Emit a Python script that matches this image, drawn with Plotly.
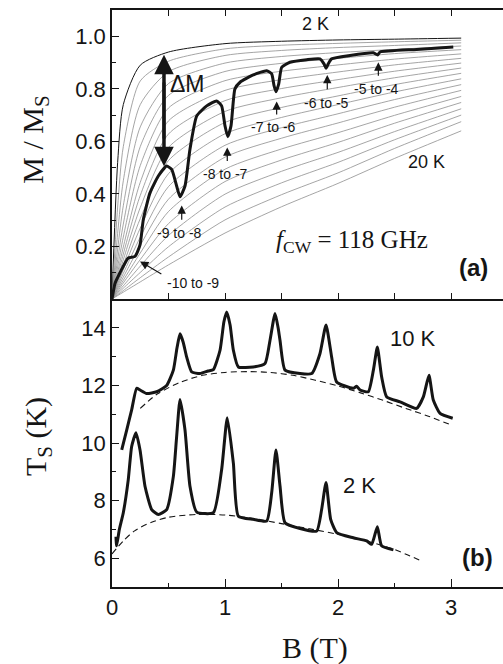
import plotly.graph_objects as go

# ---------------- data ----------------
# Grey model curves M/Ms(B) for T = 2 ... 20 K, read at these fields
B_grid = [0, 0.05, 0.1, 0.25, 0.5, 1.0, 1.5, 2.0, 2.5, 3.09]
temps = list(range(2, 21))
M_T2 = [0, 0.52, 0.74, 0.89, 0.94, 0.972, 0.981, 0.986, 0.989, 0.993]
M_T3 = [0, 0.35, 0.58, 0.83, 0.905, 0.952, 0.966, 0.973, 0.979, 0.985]
M_T4 = [0, 0.25, 0.45, 0.74, 0.865, 0.927, 0.946, 0.957, 0.965, 0.975]
M_T5 = [0, 0.19, 0.355, 0.655, 0.82, 0.898, 0.923, 0.938, 0.950, 0.963]
M_T6 = [0, 0.15, 0.285, 0.58, 0.775, 0.866, 0.897, 0.916, 0.934, 0.949]
M_T7 = [0, 0.122, 0.236, 0.508, 0.727, 0.831, 0.867, 0.891, 0.913, 0.933]
M_T8 = [0, 0.101, 0.198, 0.444, 0.678, 0.794, 0.835, 0.864, 0.891, 0.916]
M_T9 = [0, 0.087, 0.171, 0.394, 0.628, 0.755, 0.801, 0.835, 0.867, 0.898]
M_T10 = [0, 0.075, 0.149, 0.348, 0.577, 0.714, 0.766, 0.805, 0.842, 0.879]
M_T11 = [0, 0.065, 0.129, 0.306, 0.527, 0.672, 0.729, 0.773, 0.816, 0.859]
M_T12 = [0, 0.057, 0.112, 0.27, 0.477, 0.629, 0.691, 0.740, 0.788, 0.838]
M_T13 = [0, 0.049, 0.097, 0.235, 0.428, 0.585, 0.652, 0.705, 0.759, 0.816]
M_T14 = [0, 0.042, 0.083, 0.204, 0.38, 0.540, 0.612, 0.670, 0.730, 0.794]
M_T15 = [0, 0.036, 0.071, 0.175, 0.333, 0.494, 0.571, 0.633, 0.699, 0.771]
M_T16 = [0, 0.030, 0.061, 0.15, 0.287, 0.447, 0.529, 0.596, 0.669, 0.748]
M_T17 = [0, 0.025, 0.050, 0.125, 0.242, 0.399, 0.486, 0.558, 0.637, 0.724]
M_T18 = [0, 0.020, 0.041, 0.101, 0.199, 0.350, 0.442, 0.520, 0.606, 0.700]
M_T19 = [0, 0.016, 0.032, 0.081, 0.16, 0.301, 0.397, 0.480, 0.573, 0.675]
M_T20 = [0, 0.013, 0.026, 0.065, 0.13, 0.251, 0.351, 0.44, 0.535, 0.64]
model_curves = [M_T2, M_T3, M_T4, M_T5, M_T6, M_T7, M_T8, M_T9, M_T10, M_T11,
                M_T12, M_T13, M_T14, M_T15, M_T16, M_T17, M_T18, M_T19, M_T20]

# Measured M/Ms at 2 K under 118 GHz irradiation
M_meas_B = [0, 0.027, 0.071, 0.144, 0.204, 0.248, 0.277, 0.336, 0.41, 0.484, 0.528,
            0.572, 0.602, 0.646, 0.69, 0.75, 0.838, 0.926, 0.97, 1.0, 1.024, 1.053,
            1.088, 1.133, 1.25, 1.369, 1.413, 1.434, 1.451, 1.475, 1.502, 1.575,
            1.723, 1.84, 1.876, 1.894, 1.914, 1.944, 2.106, 2.313, 2.351, 2.372,
            2.696, 3.02]
M_meas = [0, 0.06, 0.10, 0.156, 0.162, 0.206, 0.302, 0.404, 0.468, 0.506, 0.493,
          0.43, 0.389, 0.43, 0.57, 0.697, 0.735, 0.754, 0.735, 0.659, 0.618, 0.659,
          0.80, 0.825, 0.853, 0.869, 0.857, 0.812, 0.789, 0.818, 0.882, 0.901,
          0.911, 0.914, 0.895, 0.878, 0.895, 0.914, 0.927, 0.937, 0.929, 0.94,
          0.95, 0.959]

# Delta M arrow (B position, lower and upper M)
dM_B = 0.46
dM_low = 0.505
dM_high = 0.93

# Transition labels: (label, arrow tip B, tip M, tail B, tail M, text B, text M)
trans_labels = ["-10 to -9", "-9 to -8", "-8 to -7", "-7 to -6", "-6 to -5", "-5 to -4"]
trans_tip_B = [0.248, 0.617, 1.02, 1.457, 1.905, 2.357]
trans_tip_M = [0.143, 0.356, 0.577, 0.752, 0.853, 0.901]
trans_tail_B = [0.45, 0.617, 1.02, 1.457, 1.905, 2.357]
trans_tail_M = [0.092, 0.296, 0.52, 0.697, 0.793, 0.844]
trans_text_B = [0.72, 0.60, 1.0, 1.43, 1.90, 2.34]
trans_text_M = [0.06, 0.252, 0.474, 0.655, 0.746, 0.80]

# Sample temperature Ts (K) vs B at bath 10 K
Ts10_B = [0.086, 0.13, 0.174, 0.218, 0.248, 0.307, 0.395, 0.484, 0.543, 0.575, 0.602,
          0.63, 0.661, 0.705, 0.779, 0.85, 0.897, 0.956, 0.99, 1.015, 1.045, 1.074,
          1.118, 1.25, 1.354, 1.398, 1.443, 1.47, 1.487, 1.531, 1.664, 1.767, 1.84,
          1.894, 1.944, 1.988, 2.135, 2.165, 2.195, 2.268, 2.313, 2.348, 2.386,
          2.431, 2.549, 2.696, 2.755, 2.805, 2.843, 2.903, 3.015]
Ts10 = [9.76, 10.45, 11.15, 11.9, 11.84, 11.72, 11.78, 12.0, 12.53, 13.3, 13.79,
        13.5, 12.98, 12.47, 12.41, 12.5, 12.55, 13.22, 14.2, 14.55, 14.1, 13.22,
        12.64, 12.64, 12.76, 13.56, 14.5, 14.0, 13.56, 12.53, 12.41, 12.41, 13.1,
        14.1, 12.98, 12.12, 11.9, 11.97, 11.84, 11.78, 12.53, 13.33, 12.3,
        11.6, 11.43, 11.2, 11.6, 12.35, 11.49, 11.03, 10.86]

# Bath 2 K
Ts2_B = [0.035, 0.041, 0.065, 0.1, 0.144, 0.174, 0.212, 0.248, 0.292, 0.351, 0.41,
         0.484, 0.543, 0.572, 0.602, 0.646, 0.69, 0.75, 0.897, 0.97, 1.02, 1.074,
         1.118, 1.25, 1.369, 1.413, 1.451, 1.487, 1.531, 1.664, 1.811, 1.855,
         1.894, 1.935, 1.988, 2.135, 2.254, 2.298, 2.348, 2.386, 2.49]
Ts2 = [6.75, 6.43, 7.0, 7.58, 8.73, 9.88, 10.36, 9.76, 8.5, 7.69, 7.52,
       7.69, 8.84, 10.22, 11.51, 10.45, 8.5, 7.6, 7.58, 9.07, 10.88, 9.3,
       7.46, 7.35, 7.29, 8.27, 9.76, 8.5, 7.23, 7.03, 6.94, 7.69,
       8.63, 7.35, 6.89, 6.71, 6.6, 6.48, 7.09, 6.43, 6.29]

# Dashed background curves
bg10_B = [0.25, 0.4, 0.6, 0.8, 1.0, 1.2, 1.4, 1.6, 1.8, 2.0, 2.2, 2.4, 2.6, 2.8, 3.0]
bg10 = [11.2, 11.7, 12.1, 12.35, 12.45, 12.48, 12.45, 12.35, 12.18, 11.98, 11.74,
        11.48, 11.2, 10.93, 10.63]
bg2_B = [0.0, 0.1, 0.2, 0.35, 0.5, 0.75, 1.0, 1.25, 1.5, 1.75, 2.0, 2.25, 2.5, 2.74]
bg2 = [6.15, 6.6, 6.95, 7.25, 7.42, 7.52, 7.5, 7.38, 7.2, 7.02, 6.83, 6.6, 6.3, 5.9]

x_ticks = [0, 1, 2, 3]
x_minor = [0.5, 1.5, 2.5]
top_x_ticks = [0, 0.5, 1, 1.5, 2, 2.5, 3]
m_ticks = [0.2, 0.4, 0.6, 0.8, 1.0]
m_ticktext = ["0.2", "0.4", "0.6", "0.8", "1.0"]
m_minor = [0.1, 0.3, 0.5, 0.7, 0.9]
t_ticks = [6, 8, 10, 12, 14]
t_minor = [5, 7, 9, 11, 13, 15]

# ---------------- figure ----------------
INK = "#151515"
SANS = "Liberation Sans, Arial, sans-serif"
SERIF = "Liberation Serif, Times New Roman, serif"

fig = go.Figure()

for T, M in zip(temps, model_curves):
    fig.add_trace(go.Scatter(
        x=B_grid, y=M, xaxis="x2", yaxis="y2", mode="lines",
        line=dict(color=INK if T == 2 else "#8e8e8e", width=1.0 if T == 2 else 0.8,
                  shape="spline", smoothing=0.7),
        showlegend=False, hoverinfo="skip"))

fig.add_trace(go.Scatter(
    x=M_meas_B, y=M_meas, xaxis="x2", yaxis="y2", mode="lines",
    line=dict(color=INK, width=3, shape="spline", smoothing=0.5),
    showlegend=False))

# Delta M shaft
fig.add_trace(go.Scatter(
    x=[dM_B, dM_B], y=[dM_low + 0.04, dM_high - 0.04], xaxis="x2", yaxis="y2",
    mode="lines", line=dict(color=INK, width=3), showlegend=False, hoverinfo="skip"))

for xs, ys in [(bg10_B, bg10), (bg2_B, bg2)]:
    fig.add_trace(go.Scatter(
        x=xs, y=ys, xaxis="x", yaxis="y", mode="lines",
        line=dict(color=INK, width=1.1, dash="6px,4px", shape="spline", smoothing=0.8),
        showlegend=False))

for xs, ys in [(Ts10_B, Ts10), (Ts2_B, Ts2)]:
    fig.add_trace(go.Scatter(
        x=xs, y=ys, xaxis="x", yaxis="y", mode="lines",
        line=dict(color=INK, width=3, shape="spline", smoothing=0.5),
        showlegend=False))

C = dict(xanchor="center", yanchor="middle")
annotations = []
# Delta M arrowheads (tails overlap the shaft)
annotations.append(dict(x=dM_B, y=dM_high, ax=dM_B, ay=dM_low + 0.1, xref="x2", yref="y2",
                        axref="x2", ayref="y2", text="", showarrow=True, arrowhead=2,
                        arrowsize=1.3, arrowwidth=3, arrowcolor=INK))
annotations.append(dict(x=dM_B, y=dM_low, ax=dM_B, ay=dM_high - 0.1, xref="x2", yref="y2",
                        axref="x2", ayref="y2", text="", showarrow=True, arrowhead=2,
                        arrowsize=1.3, arrowwidth=3, arrowcolor=INK))
annotations.append(dict(x=0.67, y=0.82, xref="x2", yref="y2", text="ΔM", showarrow=False,
                        font=dict(family=SANS, size=23, color=INK), **C))

for lab, tb, tm, lb, lm, xb, xm in zip(trans_labels, trans_tip_B, trans_tip_M,
                                       trans_tail_B, trans_tail_M,
                                       trans_text_B, trans_text_M):
    annotations.append(dict(
        x=tb, y=tm, ax=lb, ay=lm, xref="x2", yref="y2", axref="x2", ayref="y2",
        text="", showarrow=True, arrowhead=2, arrowsize=1.4, arrowwidth=1.2,
        arrowcolor=INK))
    annotations.append(dict(x=xb, y=xm, xref="x2", yref="y2", text=lab, showarrow=False,
                            font=dict(family=SANS, size=14, color=INK), **C))

annotations += [
    dict(x=1.80, y=1.048, xref="x2", yref="y2", text="2 K", showarrow=False,
         font=dict(family=SANS, size=18, color=INK), **C),
    dict(x=2.785, y=0.521, xref="x2", yref="y2", text="20 K", showarrow=False,
         font=dict(family=SANS, size=18, color=INK), **C),
    dict(x=2.12, y=0.219, xref="x2", yref="y2",
         text="<i>f</i><sub>CW</sub> = 118 GHz", showarrow=False,
         font=dict(family=SERIF, size=25, color=INK), **C),
    dict(x=3.2, y=0.12, xref="x2", yref="y2", text="<b>(a)</b>", showarrow=False,
         font=dict(family=SANS, size=24, color=INK), **C),
    dict(x=2.66, y=13.62, xref="x", yref="y", text="10 K", showarrow=False,
         font=dict(family=SANS, size=22, color=INK), **C),
    dict(x=2.19, y=8.52, xref="x", yref="y", text="2 K", showarrow=False,
         font=dict(family=SANS, size=22, color=INK), **C),
    dict(x=3.23, y=6.02, xref="x", yref="y", text="<b>(b)</b>", showarrow=False,
         font=dict(family=SANS, size=24, color=INK), **C),
    # axis titles
    dict(x=-0.197, y=0.775, xref="paper", yref="paper", text="M / M<sub>S</sub>",
         textangle=-90, showarrow=False, font=dict(family=SERIF, size=30, color=INK), **C),
    dict(x=-0.189, y=0.26, xref="paper", yref="paper", text="T<sub>S</sub> (K)",
         textangle=-90, showarrow=False, font=dict(family=SERIF, size=30, color=INK), **C),
    dict(x=0.519, y=-0.106, xref="paper", yref="paper", text="B (T)",
         showarrow=False, font=dict(family=SERIF, size=30, color=INK), **C),
]

axis_common = dict(showline=True, linecolor=INK, linewidth=1.5, ticks="inside",
                   tickcolor=INK, tickwidth=1.3, showgrid=False, zeroline=False,
                   tickfont=dict(family=SANS, size=22, color=INK))

split = (587 - 299) / 577.0

fig.update_layout(
    width=503, height=664,
    margin=dict(l=112, r=0, t=10, b=77, pad=0),
    paper_bgcolor="white", plot_bgcolor="white",
    showlegend=False,
    xaxis=dict(domain=[0, 1], anchor="y", range=[0, 3.46], tickvals=x_ticks,
               ticklen=8, minor=dict(tickvals=x_minor, ticks="inside", ticklen=4,
                                     tickcolor=INK, tickwidth=1.3),
               **axis_common),
    yaxis=dict(domain=[0, split], anchor="x", range=[5, 15], tickvals=t_ticks,
               ticklen=7, minor=dict(tickvals=t_minor, ticks="inside", ticklen=4,
                                     tickcolor=INK, tickwidth=1.3),
               **axis_common),
    xaxis2=dict(domain=[0, 1], anchor="y2", matches="x", range=[0, 3.46],
                tickvals=top_x_ticks, ticklen=6, showticklabels=False, mirror="ticks",
                **axis_common),
    yaxis2=dict(domain=[split, 1], anchor="x2", range=[0, 1.1], tickvals=m_ticks,
                ticktext=m_ticktext, ticklen=7,
                minor=dict(tickvals=m_minor, ticks="inside", ticklen=4,
                           tickcolor=INK, tickwidth=1.3),
                **axis_common),
    annotations=annotations,
)

fig.write_html("out.html")
